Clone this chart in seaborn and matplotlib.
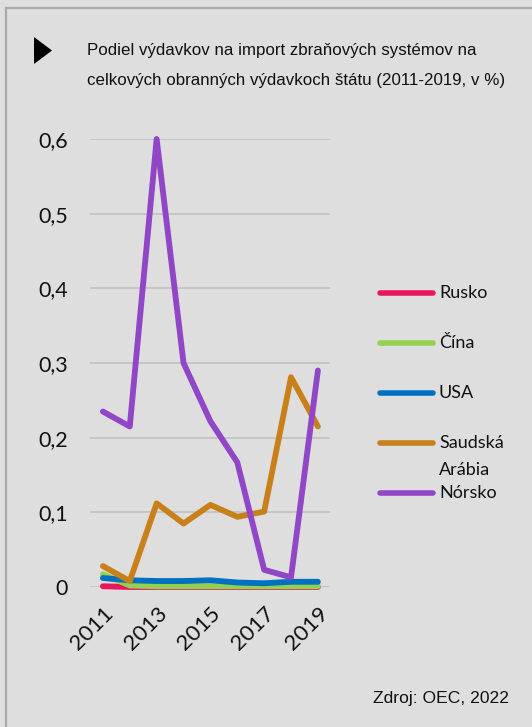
import matplotlib
matplotlib.use("Agg")
import matplotlib.pyplot as plt
from matplotlib.lines import Line2D
from matplotlib.patches import Polygon
from matplotlib.ticker import FuncFormatter
import seaborn as sns
import pandas as pd

years = [2011, 2012, 2013, 2014, 2015, 2016, 2017, 2018, 2019]
rusko = [0.001, 0.000, 0.000, 0.000, 0.000, 0.000, 0.000, 0.000, 0.000]
cina = [0.017, 0.002, 0.001, 0.001, 0.001, 0.001, 0.001, 0.001, 0.001]
usa = [0.012, 0.009, 0.008, 0.008, 0.009, 0.006, 0.005, 0.007, 0.007]
saudska = [0.028, 0.008, 0.112, 0.085, 0.110, 0.094, 0.101, 0.281, 0.215]
norsko = [0.235, 0.215, 0.600, 0.300, 0.222, 0.167, 0.023, 0.013, 0.290]
series_names = ["Rusko", "Čína", "USA", "Saudská Arábia", "Nórsko"]
legend_labels = ["Rusko", "Čína", "USA", "Saudská\nArábia", "Nórsko"]
colors = ["#e8175d", "#92d050", "#0070c0", "#c8811a", "#9146c8"]
y_ticks = [0, 0.1, 0.2, 0.3, 0.4, 0.5, 0.6]
x_ticks = [2011, 2013, 2015, 2017, 2019]
title_lines = ["Podiel výdavkov na import zbraňových systémov na",
               "celkových obranných výdavkoch štátu (2011-2019, v %)"]
source = "Zdroj: OEC, 2022"

values = [rusko, cina, usa, saudska, norsko]
rows = []
for name, vals in zip(series_names, values):
    for y, v in zip(years, vals):
        rows.append({"rok": y, "hodnota": v, "krajina": name})
df = pd.DataFrame(rows)

sns.set_theme(style="white")
BG = "#dedede"
W, H = 532, 727
fig = plt.figure(figsize=(W / 100, H / 100), dpi=100, facecolor=BG)
ax = fig.add_axes([90 / W, (H - 587) / H, 240 / W, 448 / H])
ax.set_facecolor(BG)

sns.lineplot(data=df, x="rok", y="hodnota", hue="krajina", hue_order=series_names,
             palette=colors, linewidth=4.2, ax=ax, legend=False, clip_on=False,
             solid_capstyle="round")

ax.set_xlim(2010.52, 2019.45)
ax.set_ylim(0, 0.6)
ax.set_yticks(y_ticks)
ax.set_xticks(x_ticks)
ax.yaxis.set_major_formatter(FuncFormatter(lambda v, p: ("%g" % round(v, 1)).replace(".", ",")))
ax.grid(axis="y", color="#c3c3c3", linewidth=1.3)
ax.set_axisbelow(True)
for s in ax.spines.values():
    s.set_visible(False)
ax.set_xlabel("")
ax.set_ylabel("")
ax.tick_params(axis="y", length=0, pad=16, labelsize=15.5, labelcolor="#111111")
ax.tick_params(axis="x", length=0, pad=12, labelsize=16, labelcolor="#111111")
for lab in ax.get_yticklabels():
    lab.set_fontfamily("Lato")
for lab in ax.get_xticklabels():
    lab.set_fontfamily("Lato")
    lab.set_rotation(45)
    lab.set_ha("right")
    lab.set_va("top")
    lab.set_rotation_mode("anchor")

# frame
fig.add_artist(Line2D([6 / W, 6 / W], [0, (H - 8) / H], color="#a9a9a9", linewidth=1.6,
                      transform=fig.transFigure))
fig.add_artist(Line2D([6 / W, 1], [(H - 8) / H, (H - 8) / H], color="#a9a9a9", linewidth=1.6,
                      transform=fig.transFigure))

# triangle marker
tri = [(34 / W, (H - 37) / H), (34 / W, (H - 64) / H), (52 / W, (H - 50.5) / H)]
fig.add_artist(Polygon(tri, closed=True, facecolor="black", edgecolor="none",
                       transform=fig.transFigure))

# title
fig.text(87 / W, (H - 55) / H, title_lines[0], family="Liberation Sans", fontsize=12.2,
         color="#111111", va="baseline", ha="left")
fig.text(87 / W, (H - 85) / H, title_lines[1], family="Liberation Sans", fontsize=12.2,
         color="#111111", va="baseline", ha="left")

# legend
ys = [293, 343, 393, 443, 493]
for lab, col, yy in zip(legend_labels, colors, ys):
    fig.add_artist(Line2D([380 / W, 433 / W], [(H - yy) / H] * 2, color=col, linewidth=4,
                          solid_capstyle="round", transform=fig.transFigure))
    parts = lab.split("\n")
    for k, part in enumerate(parts):
        fig.text(439 / W, (H - yy - 27 * k) / H, part, family="Lato", fontsize=13,
                 color="#111111", va="center", ha="left")

# source
fig.text(509 / W, (H - 703) / H, source, family="Liberation Sans", fontsize=12.6,
         color="#111111", ha="right", va="baseline")

fig.savefig("out.png", dpi=100, facecolor=BG)
